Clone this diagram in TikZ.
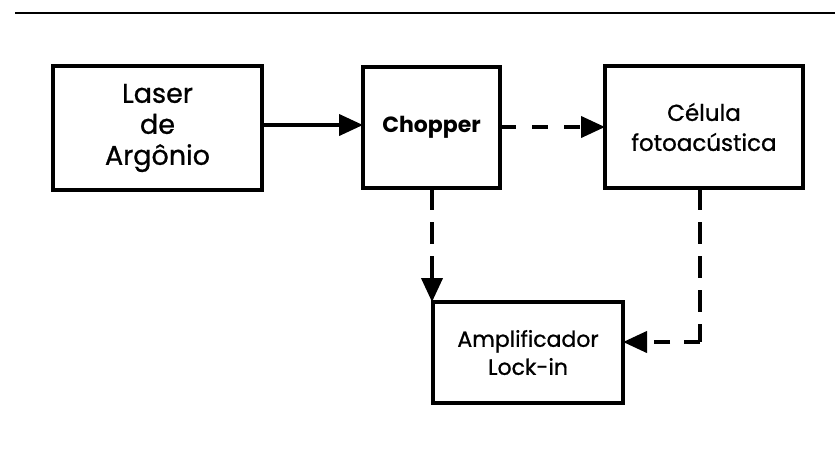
\documentclass[tikz,border=0pt]{standalone}
\usepackage{fontspec}
\setmainfont{Poppins}
\newfontfamily\medfont{Poppins}[FakeBold=0.9]
\usetikzlibrary{arrows.meta}
\begin{document}
\begin{tikzpicture}[x=1pt,y=-1pt,
  blk/.style={draw=black,line width=4.5pt,fill=white,outer sep=0pt,inner sep=0pt,align=center,font=\medfont\fontsize{22}{28}\selectfont},
  conn/.style={line width=4pt,-{Triangle[length=24pt,width=21pt]}},
  dconn/.style={conn,dash pattern=on 16pt off 16pt},
  vconn/.style={conn,dash pattern=on 22pt off 12pt}]
\useasboundingbox (0,0) rectangle (835,456);
\fill[white] (0,0) rectangle (835,456);
\coordinate (tl) at (15,13);
\coordinate (tr) at (835,13);
\draw[line width=2pt] (tl) -- (tr);
\node[blk,minimum width=209pt,minimum height=124pt,font=\medfont\fontsize{27}{31}\selectfont] (laser) at (157.5,128) {Laser\\de\\Argônio};
\node[blk,minimum width=137pt,minimum height=121pt,font=\fontsize{22}{29}\selectfont\bfseries] (chop) at (431.5,127.5) {\raisebox{5pt}{Chopper}};
\node[blk,minimum width=198pt,minimum height=122pt,font=\medfont\fontsize{23}{30}\selectfont] (cel) at (704,127) {Célula\\fotoacústica};
\node[blk,minimum width=190pt,minimum height=101pt] (lock) at (528,352.5) {Amplificador\\Lock-in};
\draw[conn] (laser.east |- 0,125) -- (chop.west |- 0,125);
\draw[dconn] (chop.east |- 0,127) -- (cel.west |- 0,127);
\coordinate (cs) at (chop.south -| 432,0);
\draw[vconn] (cs) -- (cs |- lock.north);
\coordinate (ks) at (cel.south -| 700,0);
\coordinate (kc) at (700,342);
\draw[vconn,-] (ks) -- (kc);
\draw[dconn,dash pattern=on 16pt off 14pt] (kc) -- (lock.east |- kc);
\end{tikzpicture}
\end{document}
